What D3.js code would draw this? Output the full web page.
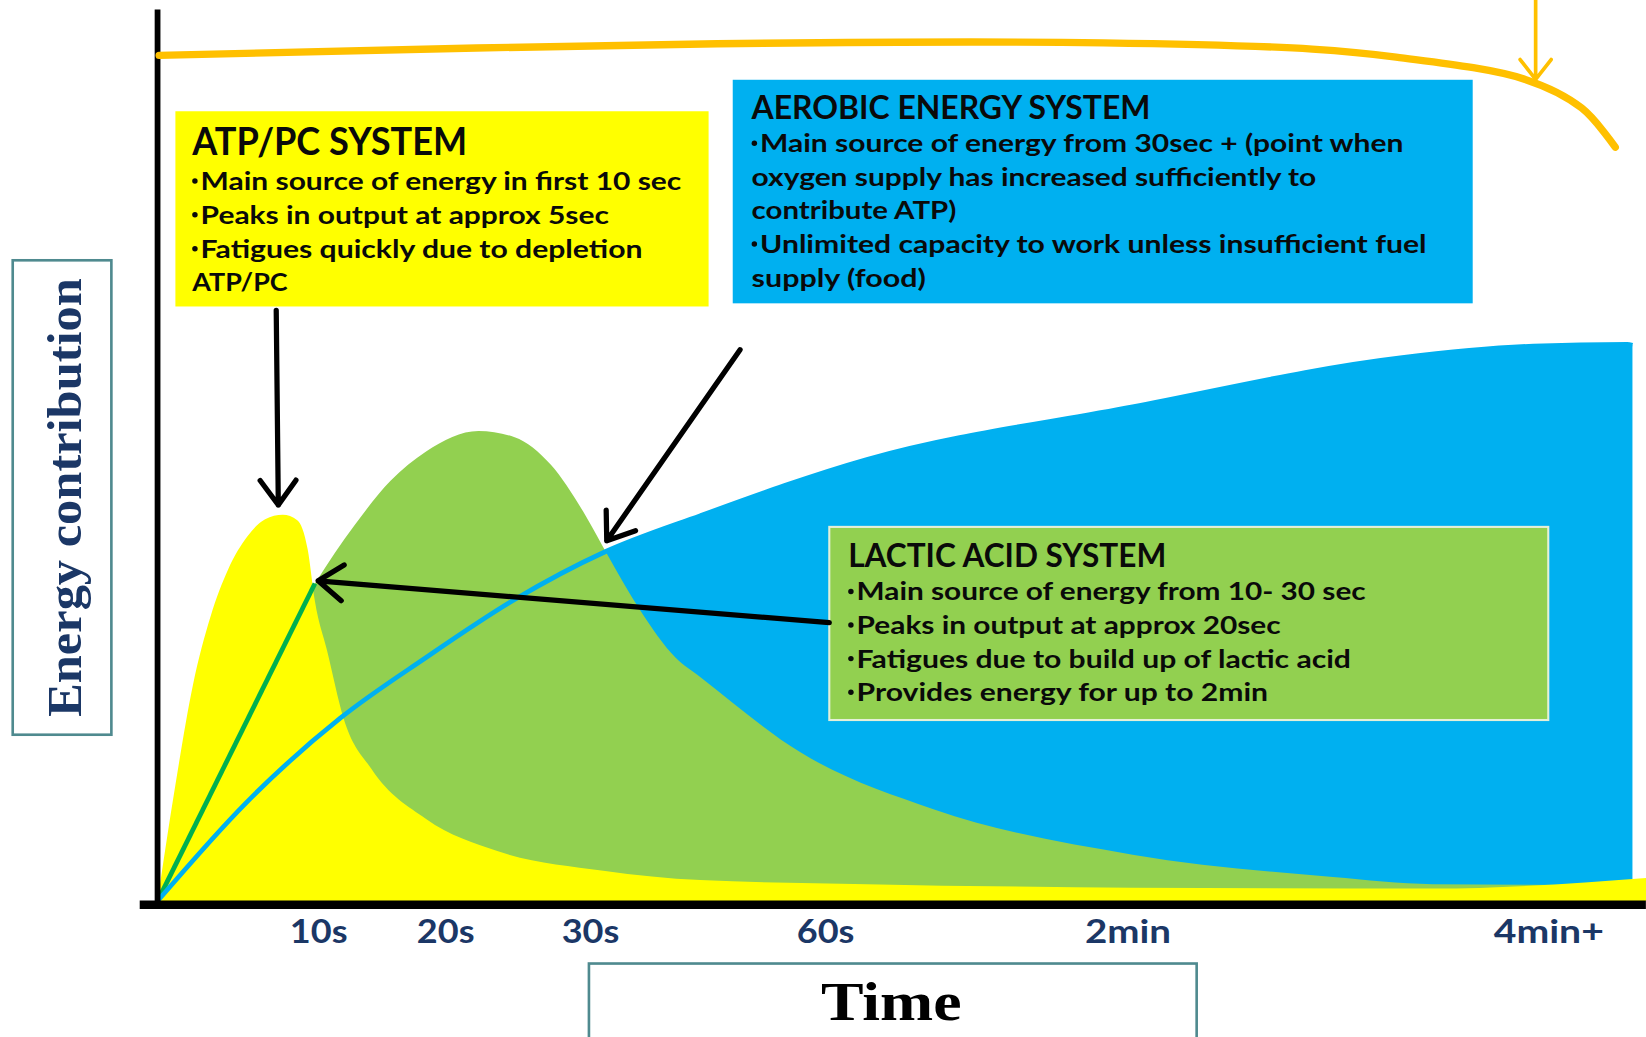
<!DOCTYPE html>
<html>
<head>
<meta charset="utf-8">
<script src="https://cdn.jsdelivr.net/npm/d3@7"></script>
<style>
  html, body { margin: 0; padding: 0; background: #ffffff; overflow: hidden; }
  svg { display: block; }
</style>
</head>
<body>
<svg id="chart" width="1646" height="1037" viewBox="0 0 1568 988"></svg>
<script>
// ---- Time axis (seconds from the start of exercise) ----
const tickSeconds = [10, 20, 30, 60, 120, 240];
const tickLabels = ["10s", "20s", "30s", "60s", "2min", "4min+"];

// ---- Energy contribution of each system (relative units, 0-100) ----
// ATP/PC system
const atpSeconds = [0, 1.1, 2.2, 3.3, 4.4, 5.6, 6.7, 7.8, 8.7, 9.35, 9.8, 10.7, 12, 14.2, 18.5, 23.6, 31.7, 44.1, 68.3, 121.5, 207, 268];
const atpValues  = [0, 12.9, 24.2, 31.9, 37.2, 40.9, 42.8, 43.3, 42.7, 39.4, 33.6, 28.1, 20.5, 14.8, 9.2, 5.6, 3.4, 2.35, 1.9, 1.5, 1.4, 2.6];

// Lactic acid system
const lacticSeconds = [0, 9.8, 12.85, 15.7, 18.5, 22.3, 24.8, 27.3, 29.7, 32.3, 36.4, 40.9, 44.1, 56.8, 81.5, 121.5, 178.6, 207, 268];
const lacticValues  = [0, 35.6, 42.1, 47.1, 50.4, 52.7, 52.0, 48.9, 43.2, 38.7, 32.6, 27.3, 25.1, 16.7, 10.3, 5.2, 2.7, 1.9, 1.8];

// Lactic ramp-up line (start to the hand-over from ATP/PC)
const lacticRampSeconds = [0, 9.8];
const lacticRampValues  = [0, 35.6];

// Aerobic system
const aerobicSeconds = [0, 5.56, 11.74, 18.5, 24.8, 31.8, 44.1, 68.3, 121.5, 197.8, 235.8, 262.5, 264];
const aerobicValues  = [0, 11.1, 20.5, 27.3, 33.8, 39.1, 43.2, 49.5, 55.4, 60.9, 62.2, 62.4, 62.3];

// Fuel supply line across the top
const fuelSeconds = [0.1, 46.2, 115.2, 172.7, 196.6, 233.4, 249.5, 259.1];
const fuelValues  = [94.8, 96.1, 96.2, 95.5, 94.6, 92.1, 88.9, 84.5];

// Callout arrows, in (seconds, value)
const calloutFrom = [[7.39, 66.2], [49.15, 61.8], [60.83, 31.2]];
const calloutTo   = [[7.52, 44.4], [32.14, 40.4], [10.0, 35.9]];
const fuelArrowFrom = [236.4, 101];
const fuelArrowTo   = [236.4, 92.1];

// ---- Text of the three description boxes ----
const atpTitle = "ATP/PC SYSTEM";
const atpLines = [
  "\u2022Main source of energy in first 10 sec",
  "\u2022Peaks in output at approx 5sec",
  "\u2022Fatigues quickly due to depletion",
  "ATP/PC"
];
const aerobicTitle = "AEROBIC ENERGY SYSTEM";
const aerobicLines = [
  "\u2022Main source of energy from 30sec + (point when",
  "oxygen supply has increased sufficiently to",
  "contribute ATP)",
  "\u2022Unlimited capacity to work unless insufficient fuel",
  "supply (food)"
];
const lacticTitle = "LACTIC ACID SYSTEM";
const lacticLines = [
  "\u2022Main source of energy from 10- 30 sec",
  "\u2022Peaks in output at approx 20sec",
  "\u2022Fatigues due to build up of lactic acid",
  "\u2022Provides energy for up to 2min"
];
const yAxisTitle = "Energy contribution";
const xAxisTitle = "Time";

// ---- Colours ----
const COL = {
  atp: "#ffff00",
  lactic: "#92d050",
  lacticLine: "#00b050",
  aerobic: "#00b0f0",
  fuel: "#ffc000",
  navy: "#1b3766",
  frame: "#4f8a8f"
};

const svg = d3.select("#chart");

// Piecewise time scale (the axis is not linear in time)
const x = d3.scaleLinear()
  .domain([0, ...tickSeconds])
  .range([150, 303, 424, 562, 786, 1074, 1475]);
const y = d3.scaleLinear().domain([0, 100]).range([858.5, 8.5]);

const zipPts = (ts, vs) => ts.map((t, i) => ({ t, v: vs[i] }));
const atpData = zipPts(atpSeconds, atpValues);
const lacticData = zipPts(lacticSeconds, lacticValues);
const aerobicData = zipPts(aerobicSeconds, aerobicValues);
const rampData = zipPts(lacticRampSeconds, lacticRampValues);
const fuelData = zipPts(fuelSeconds, fuelValues);

const area = d3.area()
  .x(d => x(d.t)).y0(y(0)).y1(d => y(d.v))
  .curve(d3.curveMonotoneX);
const line = d3.line()
  .x(d => x(d.t)).y(d => y(d.v))
  .curve(d3.curveMonotoneX);

// Areas: aerobic at the back, lactic over it, ATP/PC in front
svg.append("path").datum(aerobicData).attr("d", area).attr("fill", COL.aerobic);
svg.append("path").datum(lacticData).attr("d", area).attr("fill", COL.lactic);
svg.append("path").datum(atpData).attr("d", area).attr("fill", COL.atp);

// Lines on top of the areas
svg.append("path").datum(rampData)
  .attr("d", d3.line().x(d => x(d.t)).y(d => y(d.v)))
  .attr("fill", "none").attr("stroke", COL.lacticLine).attr("stroke-width", 4.5);
svg.append("path").datum(aerobicData)
  .attr("d", line)
  .attr("fill", "none").attr("stroke", COL.aerobic).attr("stroke-width", 4.5);

// Axis lines
svg.append("line")
  .attr("x1", x(0)).attr("x2", x(0)).attr("y1", 9).attr("y2", 866)
  .attr("stroke", "#000").attr("stroke-width", 5.5);
svg.append("line")
  .attr("x1", 133).attr("x2", 1568).attr("y1", 862).attr("y2", 862)
  .attr("stroke", "#000").attr("stroke-width", 8);

// Tick labels
const xAxis = d3.axisBottom(x)
  .tickValues(tickSeconds)
  .tickFormat((d, i) => tickLabels[i])
  .tickSize(0);
const axisG = svg.append("g").attr("transform", "translate(0,898)").call(xAxis);
axisG.select(".domain").remove();
const tickWidths = [55, 55, 55, 55, 82, 105];
axisG.selectAll("text")
  .attr("y", 0).attr("dy", 0)
  .attr("fill", COL.navy)
  .style("font-family", "Lato, 'Open Sans', sans-serif")
  .style("font-weight", 700)
  .style("font-size", "30px")
  .attr("textLength", (d, i) => tickWidths[i])
  .attr("lengthAdjust", "spacingAndGlyphs");

// Fuel supply line and its arrow
svg.append("path").datum(fuelData)
  .attr("d", d3.line().x(d => x(d.t)).y(d => y(d.v)).curve(d3.curveCatmullRom))
  .attr("fill", "none").attr("stroke", COL.fuel)
  .attr("stroke-width", 7).attr("stroke-linecap", "round");

function arrowPath(p0, p1, arm, angleDeg) {
  const [x0, y0] = p0, [x1, y1] = p1;
  const a = Math.atan2(y1 - y0, x1 - x0);
  const h = angleDeg * Math.PI / 180;
  const p = d3.path();
  p.moveTo(x0, y0); p.lineTo(x1, y1);
  p.moveTo(x1 - arm * Math.cos(a - h), y1 - arm * Math.sin(a - h));
  p.lineTo(x1, y1);
  p.lineTo(x1 - arm * Math.cos(a + h), y1 - arm * Math.sin(a + h));
  return p.toString();
}
const px = d => [x(d[0]), y(d[1])];

svg.append("path")
  .attr("d", arrowPath(px(fuelArrowFrom), px(fuelArrowTo), 24, 38))
  .attr("fill", "none").attr("stroke", COL.fuel)
  .attr("stroke-width", 3.5).attr("stroke-linecap", "round").attr("stroke-linejoin", "round");

// ---- Description boxes ----
const BULLET = "\u2022";
function textBox(cfg) {
  const g = svg.append("g");
  g.append("rect")
    .attr("x", cfg.box[0]).attr("y", cfg.box[1])
    .attr("width", cfg.box[2]).attr("height", cfg.box[3])
    .attr("fill", cfg.fill)
    .attr("stroke", cfg.stroke || "none").attr("stroke-width", cfg.stroke ? 2 : 0);
  const font = "Lato, 'Open Sans', sans-serif";
  g.append("text")
    .attr("x", cfg.textX).attr("y", cfg.titleY)
    .attr("textLength", cfg.titleW).attr("lengthAdjust", "spacingAndGlyphs")
    .style("font-family", font).style("font-weight", 700)
    .style("font-size", cfg.titleSize + "px")
    .attr("fill", "#0a0a0a")
    .text(cfg.title);

  cfg.lines.forEach((str, i) => {
    const by = cfg.lineY0 + i * cfg.lineStep;
    const bulleted = str.startsWith(BULLET);
    const body = bulleted ? str.slice(1) : str;
    const indent = bulleted ? 8 : 0;
    if (bulleted) {
      // small raised bullet, as in the slide text
      g.append("circle")
        .attr("cx", cfg.textX + 2.6).attr("cy", by - 8.5).attr("r", 2.6)
        .attr("fill", "#0a0a0a");
    }
    g.append("text")
      .attr("x", cfg.textX + indent).attr("y", by)
      .attr("textLength", cfg.lineW[i] - indent).attr("lengthAdjust", "spacingAndGlyphs")
      .style("font-family", font).style("font-weight", 700)
      .style("font-size", cfg.lineSize + "px")
      .attr("fill", "#0a0a0a")
      .text(body);
  });
}

textBox({
  box: [167, 106, 508, 186], fill: COL.atp,
  textX: 183, title: atpTitle, titleY: 148, titleW: 262, titleSize: 36,
  lines: atpLines, lineY0: 181, lineStep: 32.2, lineSize: 23.5,
  lineW: [466, 397, 429, 91]
});
textBox({
  box: [698, 76, 705, 213], fill: COL.aerobic,
  textX: 716, title: aerobicTitle, titleY: 113, titleW: 380, titleSize: 31,
  lines: aerobicLines, lineY0: 145, lineStep: 32, lineSize: 23.5,
  lineW: [621, 538, 195, 643, 166]
});
textBox({
  box: [790, 502, 685, 184], fill: COL.lactic, stroke: "#e4f0d8",
  textX: 808, title: lacticTitle, titleY: 540, titleW: 303, titleSize: 31,
  lines: lacticLines, lineY0: 572, lineStep: 32, lineSize: 23.5,
  lineW: [493, 412, 479, 400]
});

// Callout arrows
svg.selectAll("path.callout").data(calloutFrom).join("path")
  .attr("class", "callout")
  .attr("d", (d, i) => arrowPath(px(d), px(calloutTo[i]), 29, 36))
  .attr("fill", "none").attr("stroke", "#000")
  .attr("stroke-width", 5).attr("stroke-linecap", "round").attr("stroke-linejoin", "round");

// ---- Axis titles in framed boxes ----
svg.append("rect")
  .attr("x", 12).attr("y", 248).attr("width", 94).attr("height", 452)
  .attr("fill", "#fff").attr("stroke", COL.frame).attr("stroke-width", 2.5);
svg.append("text")
  .attr("transform", "translate(77,474) rotate(-90)")
  .attr("text-anchor", "middle")
  .attr("textLength", 418).attr("lengthAdjust", "spacingAndGlyphs")
  .style("font-family", "'Liberation Serif', 'DejaVu Serif', serif")
  .style("font-weight", 700).style("font-size", "46px")
  .attr("fill", COL.navy)
  .text(yAxisTitle);

svg.append("rect")
  .attr("x", 561).attr("y", 918).attr("width", 579).attr("height", 90)
  .attr("fill", "#fff").attr("stroke", COL.frame).attr("stroke-width", 2.5);
svg.append("text")
  .attr("x", 849).attr("y", 972)
  .attr("text-anchor", "middle")
  .attr("textLength", 134).attr("lengthAdjust", "spacingAndGlyphs")
  .style("font-family", "'Liberation Serif', 'DejaVu Serif', serif")
  .style("font-weight", 700).style("font-size", "52px")
  .attr("fill", "#000")
  .text(xAxisTitle);
</script>
</body>
</html>
